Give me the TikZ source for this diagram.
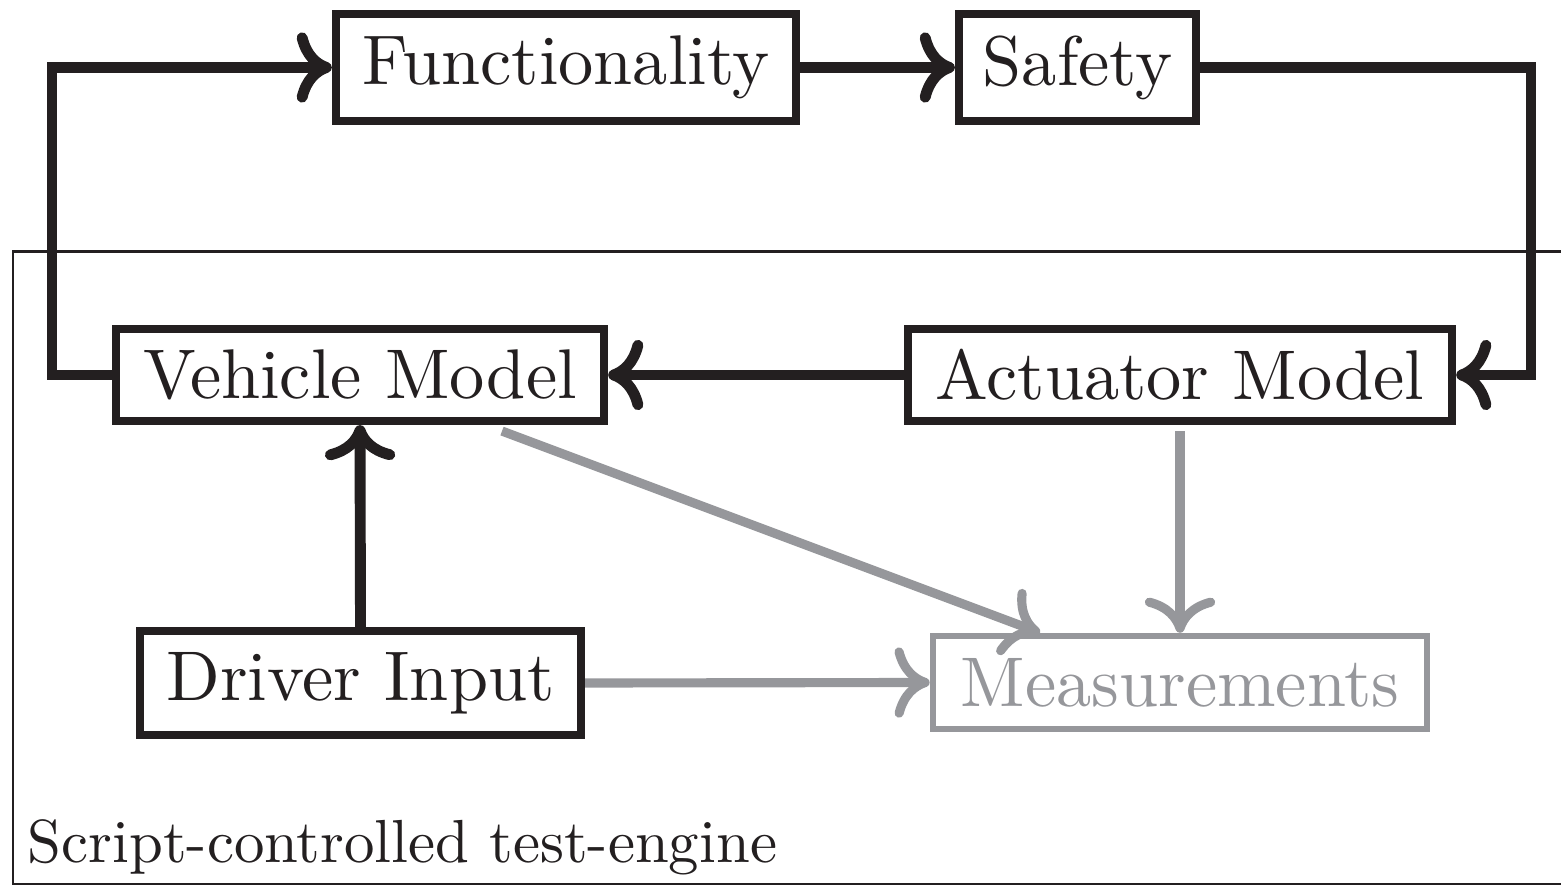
\documentclass[tikz,border=0pt]{standalone}
\usetikzlibrary{arrows.meta}
\definecolor{ink}{RGB}{35,31,32}
\definecolor{gr}{RGB}{150,151,155}
\begin{document}
\begin{tikzpicture}[x=0.01cm,y=-0.01cm,
  box/.style={draw=ink, line width=2.3pt, rectangle, inner sep=0pt, text=ink},
  gbox/.style={draw=gr, line width=1.8pt, rectangle, inner sep=0pt, text=gr},
  conn/.style={draw=ink, line width=3.1pt, -{Computer Modern Rightarrow[length=10pt,width=20pt,line width=3.1pt,round]}},
  gconn/.style={draw=gr, line width=2.6pt, -{Computer Modern Rightarrow[length=10pt,width=20pt,line width=2.6pt,round]}},
  frame/.style={draw=ink, line width=0.85pt}]
\useasboundingbox (0,0) rectangle (1561,886);
\draw[frame] (13,252) rectangle (1580,884);
\node[anchor=base west, text=ink, inner sep=0pt] (lab) at (27,862) {\scalebox{1.73}{Script-controlled test-engine}};
\node[box, minimum width=4.60cm, minimum height=1.07cm] (fun) at (566,67.5) {\scalebox{2}{Functionality}};
\node[box, minimum width=2.37cm, minimum height=1.07cm] (saf) at (1077.5,67.5) {\scalebox{2}{Safety}};
\node[box, minimum width=4.88cm, minimum height=0.92cm] (veh) at (360,375) {\scalebox{2}{Vehicle Model}};
\node[box, minimum width=5.44cm, minimum height=0.92cm] (act) at (1180,375) {\scalebox{2}{Actuator Model}};
\node[box, minimum width=4.41cm, minimum height=1.04cm] (drv) at (360.5,683) {\scalebox{2}{Driver Input}};
\node[gbox, minimum width=4.94cm, minimum height=0.93cm] (mea) at (1180,682.5) {\scalebox{2}{Measurements}};
\coordinate (lt) at (52,0);
\coordinate (rt) at (1531,0);
\coordinate (d1) at (502,0);
\coordinate (m1) at (1040,0);
\draw[conn] (veh.west) -- (veh.west -| lt) |- (fun.west);
\draw[conn] (fun.east) -- (saf.west);
\draw[conn] (saf.east) -| (rt |- act.east) -- (act.east);
\draw[conn] (act.west) -- (veh.east);
\draw[conn] (drv.north) -- (veh.south);
\draw[gconn] ([yshift=-0.06cm]veh.south -| d1) -- (mea.north -| m1);
\draw[gconn] ([yshift=-0.06cm]act.south) -- (mea.north);
\draw[gconn] (drv.east) -- (mea.west);
\end{tikzpicture}
\end{document}
